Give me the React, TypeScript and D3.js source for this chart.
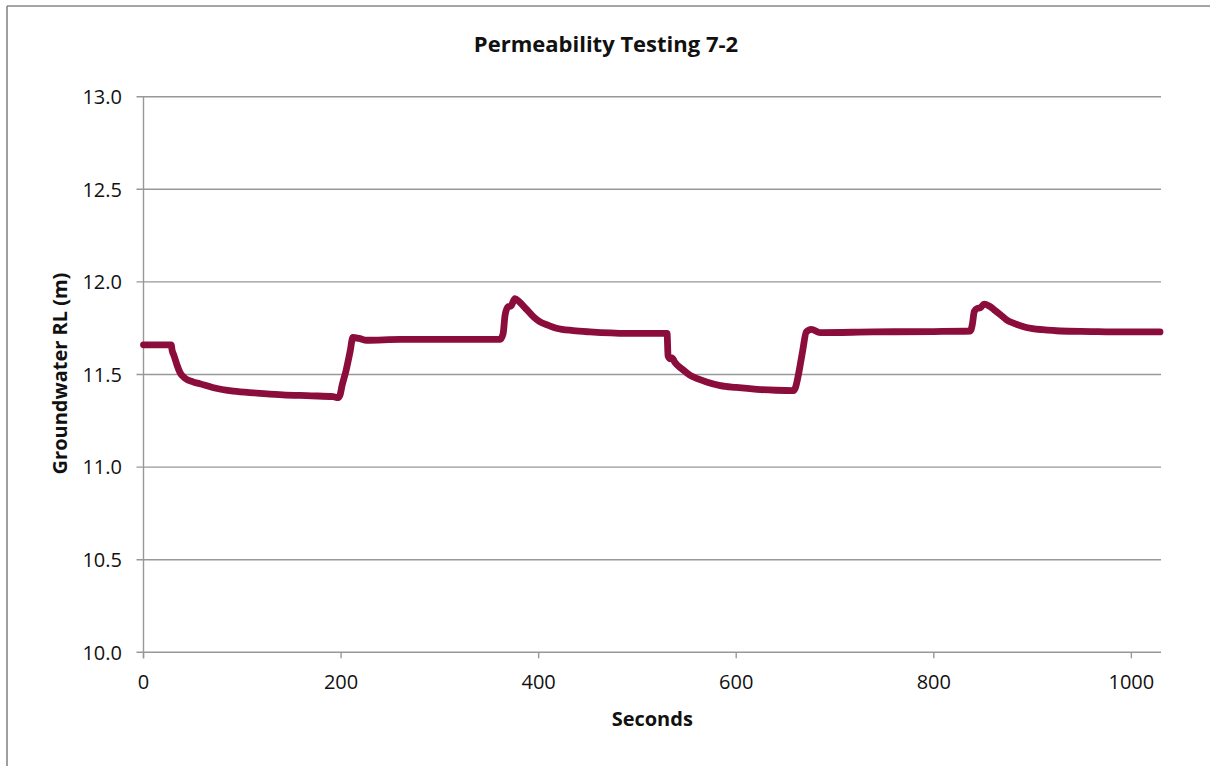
import React from "react";
import * as d3 from "d3";

const seconds = [0, 10, 20, 28, 29, 31, 34, 37, 42, 50, 57, 70, 91, 115, 141, 170, 192, 197, 199, 201, 205, 209, 212, 218, 226, 260, 300, 340, 361, 364, 366, 369, 372, 376, 380, 388, 395, 401, 410, 418, 435, 452, 490, 530, 531, 533, 535, 538, 545, 553, 562, 570, 584, 600, 621, 640, 658, 660, 663, 667, 671, 676, 685, 739, 800, 837, 839, 841, 844, 847, 851, 856, 861, 867, 874, 882, 891, 900, 910, 928, 960, 979, 1000, 1029];
const levels = [11.66, 11.66, 11.66, 11.66, 11.63, 11.6, 11.55, 11.51, 11.48, 11.46, 11.45, 11.43, 11.41, 11.4, 11.39, 11.385, 11.38, 11.375, 11.39, 11.44, 11.52, 11.62, 11.7, 11.695, 11.685, 11.69, 11.69, 11.69, 11.69, 11.72, 11.82, 11.866, 11.87, 11.91, 11.895, 11.85, 11.81, 11.785, 11.765, 11.75, 11.737, 11.73, 11.722, 11.722, 11.6, 11.585, 11.59, 11.565, 11.53, 11.497, 11.475, 11.46, 11.44, 11.43, 11.42, 11.415, 11.413, 11.43, 11.5, 11.62, 11.73, 11.744, 11.726, 11.73, 11.732, 11.735, 11.77, 11.84, 11.857, 11.86, 11.88, 11.87, 11.85, 11.825, 11.794, 11.775, 11.758, 11.748, 11.742, 11.735, 11.732, 11.73, 11.73, 11.73];

const xTicks = [0, 200, 400, 600, 800, 1000];
const yTicks = [10.0, 10.5, 11.0, 11.5, 12.0, 12.5, 13.0];

const title = "Permeability Testing 7-2";
const xTitle = "Seconds";
const yTitle = "Groundwater RL (m)";

export default function App() {
  const W = 1210, H = 766;
  const left = 143.5, right = 1161, top = 96.7, bottom = 652.3;
  const x = d3.scaleLinear().domain([0, 1030]).range([left, right]);
  const y = d3.scaleLinear().domain([10, 13]).range([bottom, top]);
  const pts = seconds.map((s, i) => [s, levels[i]] as [number, number]);
  const line = d3.line<[number, number]>().x(d => x(d[0])).y(d => y(d[1])).curve(d3.curveMonotoneX);
  const font = "'Open Sans', sans-serif";
  const grid = "#989898";
  return (
    <svg width={W} height={H} style={{ position: "fixed", left: 0, top: 0, background: "#fff" }} fontFamily={font}>
      <rect x={0} y={0} width={W} height={H} fill="#fff" />
      <line x1={7} x2={W} y1={6} y2={6} stroke="#878787" strokeWidth={1.6} />
      <line x1={7} x2={7} y1={6} y2={H} stroke="#878787" strokeWidth={1.6} />
      <text x={606} y={52} textAnchor="middle" fontSize={22} fontWeight="bold" fill="#111">{title}</text>
      {yTicks.map(t => (
        <g key={"y" + t}>
          <line x1={left - 7} x2={right} y1={y(t)} y2={y(t)} stroke={grid} strokeWidth={1.4} />
          <text x={122} y={y(t)} dy="0.36em" textAnchor="end" fontSize={20} fill="#111">{t.toFixed(1)}</text>
        </g>
      ))}
      <line x1={left} x2={left} y1={top} y2={bottom + 6} stroke={grid} strokeWidth={1.4} />
      {xTicks.map(t => (
        <g key={"x" + t}>
          <line x1={x(t)} x2={x(t)} y1={bottom} y2={bottom + 6} stroke={grid} strokeWidth={1.4} />
          <text x={x(t)} y={689} textAnchor="middle" fontSize={20} fill="#111">{t}</text>
        </g>
      ))}
      <text x={(left + right) / 2} y={726} textAnchor="middle" fontSize={20} fontWeight="bold" fill="#111">{xTitle}</text>
      <text transform={`translate(67,${(top + bottom) / 2 - 1}) rotate(-90)`} textAnchor="middle" fontSize={20} fontWeight="bold" fill="#111">{yTitle}</text>
      <path d={line(pts) || ""} fill="none" stroke="#8b0d3b" strokeWidth={6.8} strokeLinejoin="round" strokeLinecap="round" />
    </svg>
  );
}
